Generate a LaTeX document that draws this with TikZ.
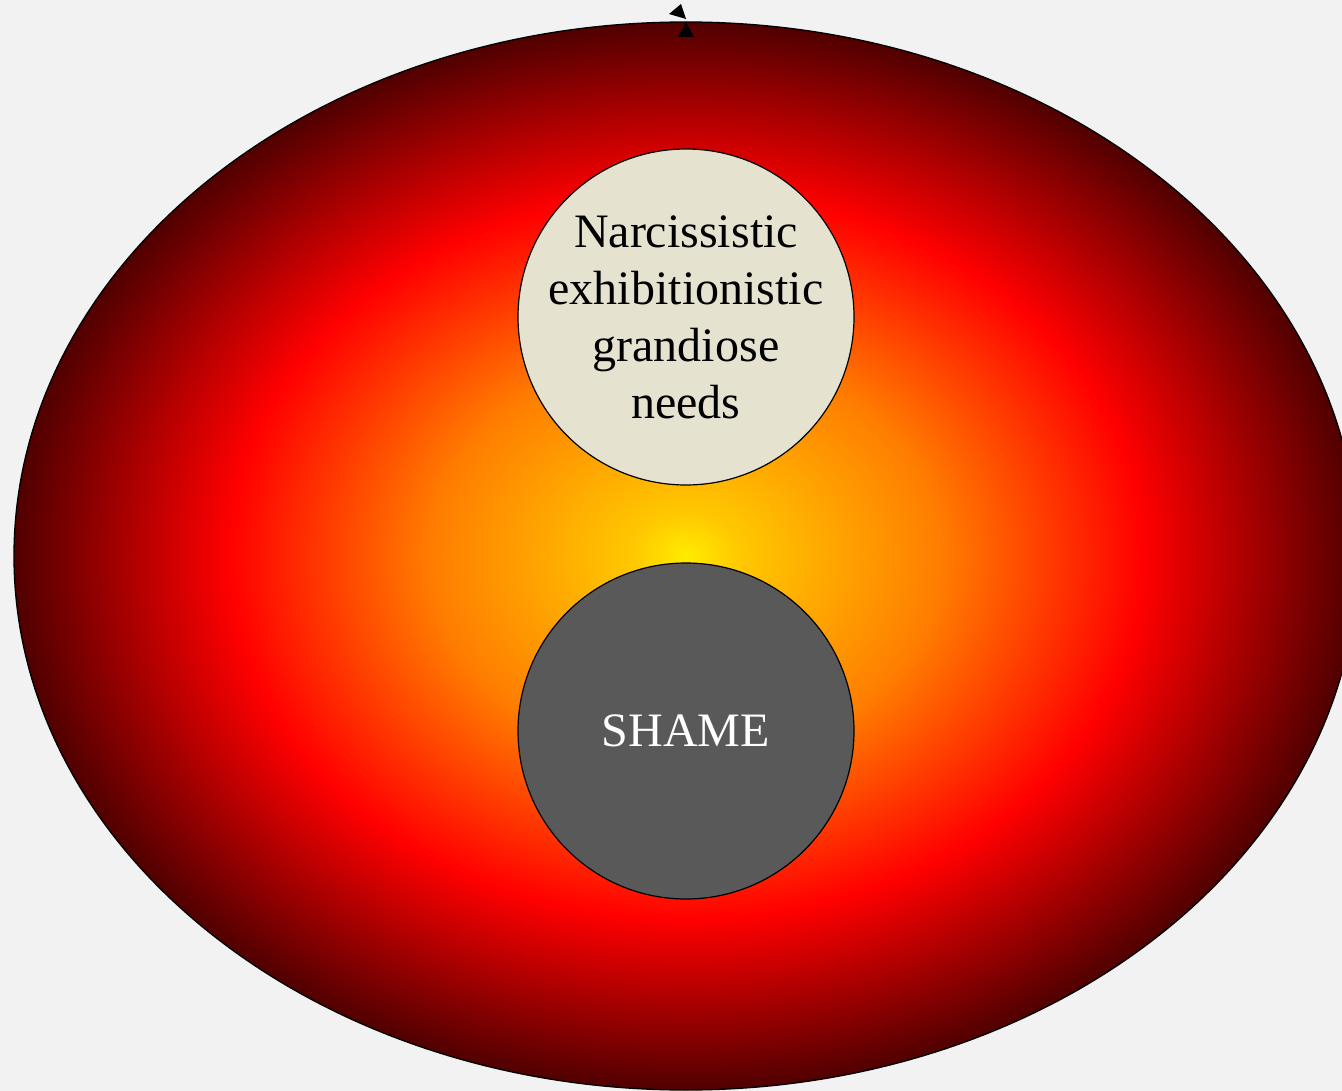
\documentclass[tikz,border=0pt]{standalone}
\usepackage{fontspec}
\setmainfont{Liberation Serif}
\definecolor{firey}{RGB}{255,236,0}
\definecolor{fireyo}{RGB}{255,200,0}
\definecolor{fireo}{RGB}{255,125,0}
\definecolor{firer}{RGB}{255,0,0}
\definecolor{fired}{RGB}{80,0,0}
\definecolor{bg}{RGB}{242,242,242}
\definecolor{needfill}{RGB}{230,226,208}
\definecolor{shamefill}{RGB}{89,89,89}
\pgfdeclareradialshading{fire}{\pgfpoint{0bp}{0bp}}{%
color(0bp)=(firey);
color(2bp)=(fireyo);
color(9.5bp)=(fireo);
color(17bp)=(firer);
color(25bp)=(fired);
color(50bp)=(fired)}
\tikzset{
  bubble/.style={circle, draw=black, line width=1.2pt, minimum size=336pt, inner sep=0pt},
  bubbletext/.style={align=center, inner sep=0pt, font=\fontsize{48}{57}\selectfont},
  tip/.style={fill=black, draw=none}
}
\begin{document}
\begin{tikzpicture}[x=1pt,y=-1pt]
\fill[bg] (0,0) rectangle (1342,1091);
\useasboundingbox (0,0) rectangle (1342,1091);
\begin{scope}
\clip (0,0) rectangle (1342,1091);
\shade[shading=fire] (686,556) ellipse [x radius=672, y radius=534];
\draw[black, line width=1.3pt] (686,556) ellipse [x radius=672, y radius=534];
\end{scope}
\fill[tip] (678,37) -- (686,22) -- (694,37) -- cycle;
\fill[tip] (669,14) -- (681,4) -- (686,19) -- cycle;
\node[bubble, fill=needfill] (needs) at (686,317) {};
\node[bubbletext] (needstext) at (needs.center) {Narcissistic\\exhibitionistic\\grandiose\\needs};
\node[bubble, fill=shamefill] (shame) at (686,731) {};
\node[bubbletext, text=white] (shametext) at (shame.center) {SHAME};
\end{tikzpicture}
\end{document}
